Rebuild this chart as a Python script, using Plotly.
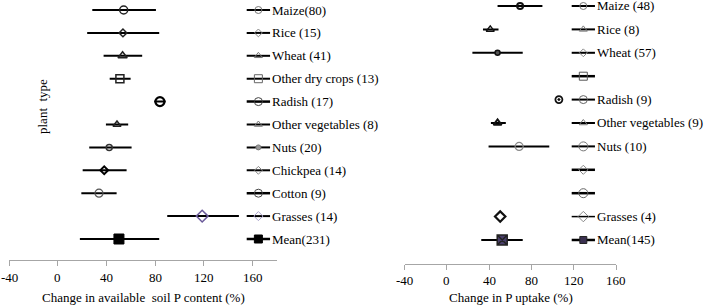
import plotly.graph_objects as go

W, H = 708, 306
FONT = "Liberation Serif"

categories = ["Maize", "Rice", "Wheat", "Other dry crops", "Radish", "Other vegetables",
              "Nuts", "Chickpea", "Cotton", "Grasses", "Mean"]

# Left panel: change in available soil P content (%)
soil_labels = ["Maize(80)", "Rice (15)", "Wheat (41)", "Other dry crops (13)", "Radish (17)",
               "Other vegetables (8)", "Nuts (20)", "Chickpea (14)", "Cotton (9)",
               "Grasses (14)", "Mean(231)"]
soil_mean = [54.0, 53.4, 53.1, 50.9, 83.8, 48.5, 42.1, 38.0, 33.7, 118.5, 50.1]
soil_lo = [28.2, 24.0, 37.5, 42.5, 79.1, 39.4, 25.7, 20.3, 19.2, 89.8, 18.0]
soil_hi = [80.5, 83.2, 69.2, 59.7, 88.5, 57.7, 60.5, 56.4, 48.2, 148.7, 83.2]

# Right panel: change in P uptake (%)
uptake_labels = ["Maize (48)", "Rice (8)", "Wheat (57)", "", "Radish (9)",
                 "Other vegetables (9)", "Nuts (10)", "", "", "Grasses (4)", "Mean(145)"]
uptake_mean = [69.3, 41.1, 48.0, None, 106.0, 48.0, 68.4, None, None, 50.5, 52.4]
uptake_lo = [48.0, 34.2, 24.2, None, 106.0, 41.7, 39.5, None, None, 50.5, 32.6]
uptake_hi = [90.4, 48.9, 71.8, None, 106.0, 55.8, 96.9, None, None, 50.5, 71.8]

tick_vals = [-40, 0, 40, 80, 120, 160]
tick_text = ["-40", "0", "40", "80", "120", "160"]

# legend-like key glyphs (Excel series drawn at a fixed x with +/- bars)
soil_key_x, soil_key_half = 164.7, 9.6
uptake_key_x, uptake_key_half = 129.1, 11.0

# marker styles: (symbol, size, line colour, line width, fill)
soil_styles = [
    ("circle-open", 8, "#222", 1.5, None),
    ("diamond-open", 6, "#222", 1.5, None),
    ("triangle-up-open", 8, "#222", 1.5, None),
    ("square-open", 8, "#222", 1.5, None),
    ("circle-open", 9, "#000", 2.2, None),
    ("triangle-up-open", 7, "#222", 1.5, None),
    ("circle-open", 6, "#333", 1.5, None),
    ("diamond-open", 6, "#000", 2, None),
    ("circle-open", 8, "#555", 1.2, None),
    ("diamond-open", 9, "#6b5b9a", 1.5, None),
    ("square", 10, "#000", 1, "#000"),
]
soil_key_styles = [
    ("circle-open", 7, "#777", 1, None, 2),
    ("diamond-open", 6, "#888", 1, None, 2),
    ("triangle-up-open", 7, "#777", 1, None, 2),
    ("square-open", 8, "#666", 1, None, 2),
    ("circle-open", 8, "#444", 1, None, 2.5),
    ("triangle-up-open", 7, "#777", 1, None, 2),
    ("circle", 5, "#777", 1, "#999", 2),
    ("diamond-open", 6, "#888", 1, None, 2),
    ("circle-open", 8, "#444", 1, None, 2.5),
    ("diamond-open", 7, "#aaa3cc", 1, None, 2),
    ("square", 8, "#000", 1, "#000", 2.5),
]
uptake_styles = [
    ("circle-open", 6, "#111", 2, None),
    ("triangle-up-open", 7, "#111", 1.5, None),
    ("circle", 5, "#111", 1.5, "#555"),
    ("square-open", 8, "#111", 1.5, None),
    ("circle-open-dot", 7, "#111", 1.8, None),
    ("triangle-up-open", 7, "#111", 2, None),
    ("circle-open", 8, "#888", 1.2, None),
    ("diamond-open", 8, "#111", 2, None),
    ("circle-open", 8, "#111", 2, None),
    ("diamond-open", 8, "#111", 2.2, None),
    ("square-x", 10, "#222", 1.5, "#4a3f6b"),
]
uptake_key_styles = [
    ("circle-open", 7, "#777", 1, None, 2),
    ("triangle-up-open", 7, "#777", 1, None, 2),
    ("diamond-open", 6, "#888", 1, None, 2),
    ("square-open", 8, "#555", 1, None, 2.5),
    ("circle-open", 8, "#666", 1, None, 2),
    ("triangle-up-open", 7, "#777", 1, None, 2),
    ("circle-open", 9, "#777", 1, None, 2),
    ("diamond-open", 7, "#888", 1, None, 2.5),
    ("circle-open", 9, "#666", 1, None, 2.5),
    ("diamond-open", 8, "#888", 1, None, 1.5),
    ("square", 7, "#222", 1, "#3a3050", 2.5),
]

fig = go.Figure()


def add_panel(means, los, his, styles, key_x, key_half, key_styles, xa, ya):
    for i, cat in enumerate(categories):
        m = means[i]
        if m is not None:
            sym, size, lc, lw, fill = styles[i]
            has_err = his[i] - m > 0.01 or m - los[i] > 0.01
            fig.add_trace(go.Scatter(
                x=[m], y=[i], mode="markers", xaxis=xa, yaxis=ya, showlegend=False,
                cliponaxis=False,
                marker=dict(symbol=sym, size=size,
                            color=fill if fill else lc,
                            line=dict(color=lc, width=lw)),
                error_x=dict(type="data", symmetric=False, array=[his[i] - m],
                             arrayminus=[m - los[i]], color="#000", thickness=2,
                             width=0, visible=has_err),
                name=cat))
        sym, size, lc, lw, fill, elw = key_styles[i]
        fig.add_trace(go.Scatter(
            x=[key_x], y=[i], mode="markers", xaxis=xa, yaxis=ya, showlegend=False,
            cliponaxis=False,
            marker=dict(symbol=sym, size=size, color=fill if fill else lc,
                        line=dict(color=lc, width=lw)),
            error_x=dict(type="constant", value=key_half, color="#000",
                         thickness=elw, width=0),
            name=cat + " key"))


add_panel(soil_mean, soil_lo, soil_hi, soil_styles, soil_key_x, soil_key_half,
          soil_key_styles, "x", "y")
add_panel(uptake_mean, uptake_lo, uptake_hi, uptake_styles, uptake_key_x, uptake_key_half,
          uptake_key_styles, "x2", "y2")

TF = dict(family=FONT, size=13, color="#000")
annotations = []
for i, lab in enumerate(soil_labels):
    annotations.append(dict(x=271 / W, xref="paper", y=i, yref="y", text=lab,
                            showarrow=False, xanchor="left", yanchor="middle",
                            borderpad=0, font=TF))
for i, lab in enumerate(uptake_labels):
    if lab:
        annotations.append(dict(x=595.5 / W, xref="paper", y=i, yref="y2", text=lab,
                                showarrow=False, xanchor="left", yanchor="middle",
                                borderpad=0, font=TF))

# tick labels
for xr, ypix in (("x", 277), ("x2", 280)):
    for v, t in zip(tick_vals, tick_text):
        annotations.append(dict(x=v, xref=xr, y=1 - ypix / H, yref="paper", text=t,
                                showarrow=False, xanchor="center", yanchor="middle",
                                borderpad=0, font=TF))

annotations.append(dict(x=42 / W, y=1 - 107 / H, xref="paper", yref="paper",
                        text="plant  type", textangle=-90, showarrow=False,
                        xanchor="center", yanchor="middle", font=TF))
annotations.append(dict(x=143.5 / W, y=1 - 297 / H, xref="paper", yref="paper",
                        text="Change in available  soil P content (%)", showarrow=False,
                        xanchor="center", yanchor="middle", font=TF))
annotations.append(dict(x=510.5 / W, y=1 - 297 / H, xref="paper", yref="paper",
                        text="Change in P uptake (%)", showarrow=False,
                        xanchor="center", yanchor="middle", font=TF))

xaxis_common = dict(showgrid=False, zeroline=False, showline=True, linecolor="#a6a6a6",
                    linewidth=1, ticks="outside", ticklen=5, tickcolor="#a6a6a6",
                    tickvals=tick_vals, showticklabels=False, fixedrange=True)

fig.update_layout(
    width=W, height=H,
    margin=dict(l=0, r=0, t=0, b=0),
    paper_bgcolor="white", plot_bgcolor="white",
    showlegend=False,
    font=dict(family=FONT),
    hovermode=False,
    xaxis=dict(domain=[9.3 / W, 277 / W], range=[-40, 180], anchor="y", **xaxis_common),
    yaxis=dict(domain=[1 - 260 / H, 1], range=[10.917, -0.437], visible=False,
               anchor="x", fixedrange=True),
    xaxis2=dict(domain=[404.5 / W, 616 / W], range=[-40, 160], anchor="y2", **xaxis_common),
    yaxis2=dict(domain=[1 - 264 / H, 1], range=[11.026, -0.256], visible=False,
                anchor="x2", fixedrange=True),
    annotations=annotations,
)

fig.write_html("out.html",
               config={"displayModeBar": False, "staticPlot": True},
               post_script="document.body.style.margin='0';"
                           "document.body.style.overflow='hidden';")
